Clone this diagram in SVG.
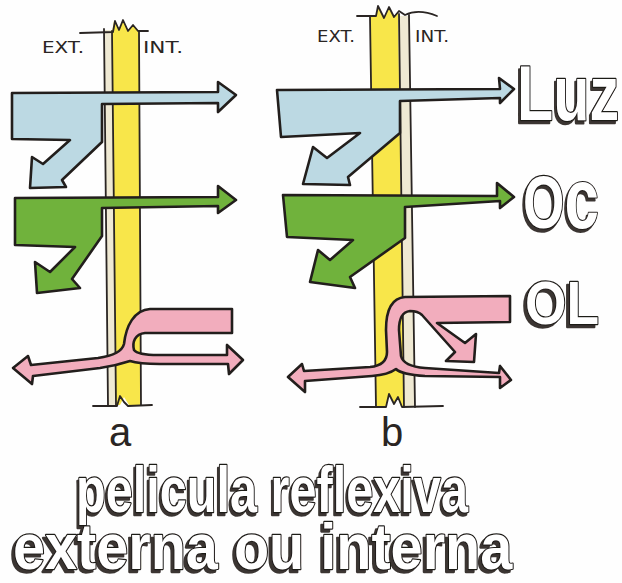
<svg xmlns="http://www.w3.org/2000/svg" width="622" height="583" viewBox="0 0 622 583">
  <defs>
    <!-- dark extrusion to the lower left of the outlined lettering -->
    <filter id="extrude" x="-10%" y="-15%" width="120%" height="140%">
      <feOffset in="SourceAlpha" dx="-3" dy="3" result="off"/>
      <feFlood flood-color="#3b3532"/>
      <feComposite in2="off" operator="in" result="shade"/>
      <feMerge>
        <feMergeNode in="shade"/>
        <feMergeNode in="SourceGraphic"/>
      </feMerge>
    </filter>
  </defs>
  <style>
    .ol { stroke: #221e1c; stroke-width: 2.6; stroke-linejoin: round; stroke-linecap: round; }
    .thin { fill: none; stroke: #2a2523; stroke-width: 1.8; stroke-linejoin: round; stroke-linecap: round; }
    .blue { fill: #bcd9e3; }
    .green { fill: #70b23c; }
    .pink { fill: #f2adbd; }
    .yellow { fill: #f8e64a; }
    .film { fill: #efe9d3; }
    .small { font-family: "DejaVu Sans", "Liberation Sans", sans-serif; font-size: 15px; fill: #2a2523; }
    .letter { font-family: "Liberation Sans", "DejaVu Sans", sans-serif; font-size: 40px; fill: #2a2523; }
    .bubble { font-family: "Liberation Sans", "DejaVu Sans", sans-serif; font-weight: bold; fill: #ffffff; stroke: #1f1b19; stroke-width: 2.2; stroke-linejoin: round; paint-order: stroke; vector-effect: non-scaling-stroke; filter: url(#extrude); }
  </style>

  <rect width="622" height="583" fill="#fefefe"/>

  <!-- panel a: film on the exterior face of the glass -->
  <g id="panel-a">
    <g id="wall-a">
      <polygon class="film" points="104,30 112,30 116,405 108,405"/>
      <path class="yellow" d="M112,32 L114,21 L119,30 L123,20 L128,31 L133,25 L139,31 L141,405 L129,405 L124,397 L120,405 L116,405 Z"/>
      <path class="thin" d="M104,29 L108,405"/>
      <path class="thin" d="M112,31 L116,405"/>
      <path class="thin" d="M139,31 L141,405"/>
      <path class="thin" d="M80,33 L113,32 L115,21 L119,30 L123,20 L128,31 L133,25 L138,31 L148,31"/>
      <path class="thin" d="M93,406 L117,406 L120,396 L124,402 L128,406 L152,405"/>
      <text class="small" x="42" y="53" textLength="42" lengthAdjust="spacingAndGlyphs">EXT.</text>
      <text class="small" x="143" y="53" textLength="40" lengthAdjust="spacingAndGlyphs">INT.</text>
    </g>
    <g id="light-a">
      <path class="ol blue" d="M12,93 L218,92 L218,82 L236,95 L218,112 L218,103 L102,104 L102,142 L62,180 L66,187 L30,188 L32,157 L43,164 L70,140 L12,139 Z"/>
    </g>
    <g id="shortwave-a">
      <path class="ol green" d="M15,198 L218,197 L218,186 L236,200 L218,213 L218,206 L102,208 L102,236 L72,279 L80,288 L37,293 L35,262 L50,272 L75,247 L15,245 Z"/>
    </g>
    <g id="longwave-a">
      <path class="ol pink" d="M232,309 L150,309 C134,310 126,326 124,344 C122,352 112,356 98,358 L31,365 L28,356 L13,368 L32,384 L33,376 L100,368 C114,366 124,363 130,361 C136,363 146,364 160,364 L228,364 L229,374 L243,360 L227,345 L227,355 L158,355 C146,355 137,354 134,350 C132,342 135,334 145,333 L232,333 Z"/>
    </g>
    <text class="letter" x="109" y="446">a</text>
  </g>

  <!-- panel b: film on the interior face of the glass -->
  <g id="panel-b">
    <g id="wall-b">
      <polygon class="film" points="398,16 409,16 415,407 404,407"/>
      <path class="yellow" d="M370,17 L376,17 L378,6 L384,18 L389,7 L394,17 L398,12 L404,407 L401,407 L398,397 L394,404 L389,394 L386,407 L376,407 Z"/>
      <path class="thin" d="M370,17 L376,407"/>
      <path class="thin" d="M399,14 L404,407"/>
      <path class="thin" d="M409,15 L415,407"/>
      <path class="thin" d="M357,16 L376,16 L378,6 L384,18 L389,7 L394,17 L399,11 L405,15 C415,10 425,11 437,16"/>
      <path class="thin" d="M360,407 L386,407 L389,394 L394,404 L398,397 L402,407 L443,406"/>
      <text class="small" x="317" y="42" textLength="38" lengthAdjust="spacingAndGlyphs">EXT.</text>
      <text class="small" x="415" y="42" textLength="34" lengthAdjust="spacingAndGlyphs">INT.</text>
    </g>
    <g id="light-b">
      <path class="ol blue" d="M277,90 L500,89 L499,78 L514,89 L500,103 L500,98 L400,101 L400,133 L348,177 L350,185 L303,184 L313,147 L327,158 L360,133 L281,137 Z"/>
    </g>
    <g id="shortwave-b">
      <path class="ol green" d="M283,195 L497,196 L497,183 L514,197 L500,208 L500,201 L405,207 L405,238 L350,277 L355,288 L310,282 L318,250 L330,260 L353,240 L287,237 Z"/>
    </g>
    <g id="longwave-b">
      <path class="ol pink" d="M510,296 L405,297 C392,298 386,310 386,330 L387,352 C387,362 380,366 370,367 L304,371 L302,364 L288,377 L305,392 L305,381 L372,376 C384,375 392,372 396,369 C400,373 410,375 425,376 L500,377 L500,388 L511,380 L500,366 L499,373 L425,368 C412,367 403,364 401,356 L399,330 C399,318 402,312 410,311 C416,311 419,312 422,315 L455,352 L446,361 L474,362 L476,334 L465,343 L437,323 L510,322 Z"/>
    </g>
    <text class="letter" x="381" y="446">b</text>

    <!-- radiation labels -->
    <text id="label-luz" class="bubble" font-size="78" transform="translate(517,120) scale(0.76,1)">Luz</text>
    <text id="label-oc" class="bubble" font-size="74" transform="translate(523,228) scale(0.72,1)">O<tspan font-size="86">c</tspan></text>
    <text id="label-ol" class="bubble" font-size="62" transform="translate(525,324) scale(0.86,1)">OL</text>
  </g>

  <!-- caption -->
  <g id="caption">
    <text class="bubble" font-size="64" transform="translate(76,512) scale(0.76,1)">pelicula reflexiva</text>
    <text class="bubble" font-size="64" transform="translate(13,569) scale(0.9,1)">externa ou interna</text>
  </g>
</svg>
